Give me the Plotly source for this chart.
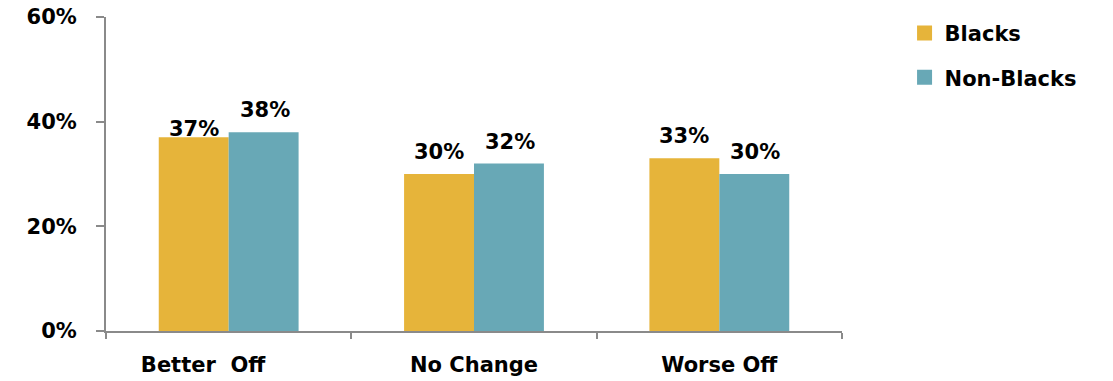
import plotly.graph_objects as go

categories = ["Better  Off\u00a0\u00a0\u00a0\u00a0\u00a0\u00a0\u00a0", "No Change", "Worse Off"]
blacks = [37, 30, 33]
non_blacks = [38, 32, 30]
y_ticks = [0, 20, 40, 60]
y_tick_labels = ["0%", "20%", "40%", "60%"]

GOLD = "#E6B43A"
TEAL = "#68A8B6"
AXIS = "#8A8A8A"
FONT = dict(family="DejaVu Sans, Liberation Sans, Arial, sans-serif", size=21,
            color="black", weight="bold")

fig = go.Figure()
for name, vals, color in [("Blacks", blacks, GOLD), ("Non-Blacks", non_blacks, TEAL)]:
    fig.add_trace(go.Bar(
        x=categories, y=vals, name=name, marker=dict(color=color, line=dict(width=0)),
        showlegend=False,
    ))
    # square swatch for the legend
    fig.add_trace(go.Scatter(
        x=[None], y=[None], mode="markers", name=name, legendgroup=name,
        marker=dict(symbol="square", size=15, color=color),
    ))

# value labels above each bar
offsets = {"Blacks": -35, "Non-Blacks": 36}
for name, vals in [("Blacks", blacks), ("Non-Blacks", non_blacks)]:
    for cat, v in zip(categories, vals):
        lift = -6 if (name == "Blacks" and cat == categories[0]) else 8
        fig.add_annotation(
            x=cat, y=v, text=f"{v}%", showarrow=False, yanchor="bottom",
            xshift=offsets[name], yshift=lift, font=FONT,
        )

fig.update_layout(
    width=1113, height=381,
    margin=dict(l=106, r=271, t=17, b=50, autoexpand=False),
    paper_bgcolor="white", plot_bgcolor="white",
    barmode="group", bargap=0.43, bargroupgap=0,
    font=FONT,
    legend=dict(
        x=1.085, y=1.013, xanchor="left", yanchor="top",
        font=FONT, tracegroupgap=14, traceorder="grouped",
        itemsizing="trace",
    ),
    xaxis=dict(
        showline=True, linecolor=AXIS, linewidth=2,
        ticks="outside", tickson="boundaries", ticklen=6, tickcolor=AXIS, tickwidth=2,
        tickfont=FONT, ticklabelstandoff=14, showgrid=False, automargin=False,
    ),
    yaxis=dict(
        range=[0, 60], tickvals=y_ticks, ticktext=y_tick_labels,
        showline=True, linecolor=AXIS, linewidth=2,
        ticks="outside", ticklen=8, tickcolor=AXIS, tickwidth=2,
        tickfont=FONT, ticklabelstandoff=15, showgrid=False, zeroline=False,
        automargin=False,
    ),
)

fig.write_html("out.html")
